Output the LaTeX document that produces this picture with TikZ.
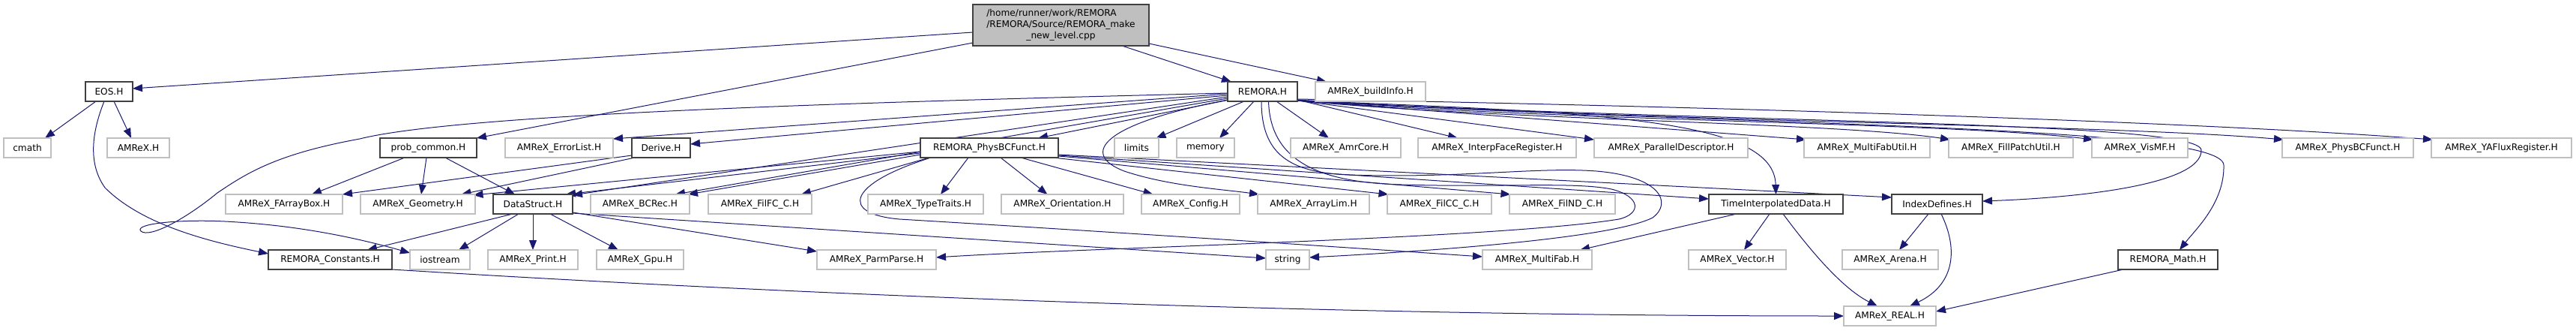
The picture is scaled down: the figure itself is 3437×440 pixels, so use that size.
\documentclass[tikz,border=0pt]{standalone}
\usepackage{fontspec}
\setmainfont{DejaVu Sans}
\usetikzlibrary{arrows.meta,calc}
\definecolor{edgec}{HTML}{191970}
\definecolor{graybd}{HTML}{BFBFBF}
\definecolor{mainfill}{HTML}{BFBFBF}
\definecolor{darkbd}{HTML}{404040}
\newcommand\dfont{\fontsize{12.15}{15}\selectfont}
\pgfdeclarelayer{bg}
\pgfsetlayers{bg,main}
\tikzset{
  gbox/.style={draw=graybd, line width=1.5pt, fill=white, minimum height=26pt, inner sep=0pt, font=\dfont, text=black},
  bbox/.style={draw=darkbd, line width=1.5pt, fill=white, minimum height=26pt, inner sep=0pt, font=\dfont, text=black},
  bw/.style={minimum width=#1pt},
  lnk/.style={draw=edgec, line width=1pt, -{Triangle[length=13pt,width=10pt]}, edgec}
}
\begin{document}
\begin{tikzpicture}[x=1pt,y=-1pt]
\useasboundingbox (0,0) rectangle (3437,440);
% row 0
\node[bbox,bw=235,minimum height=55pt,fill=mainfill] (main) at (1415.5,33.5)
  {\begin{tabular}{@{}l@{}}/home/runner/work/REMORA\\/REMORA/Source/REMORA\_make\\\multicolumn{1}{@{}c@{}}{\_new\_level.cpp}\end{tabular}};
% row 1
\node[bbox,bw=63] (eos) at (145.5,122) {EOS.H};
\node[bbox,bw=93] (remora) at (1684.5,122) {REMORA.H};
\node[gbox,bw=147] (binfo) at (1828.5,122) {AMReX\_buildInfo.H};
% row 2
\node[gbox,bw=63] (cmath) at (36.5,197) {cmath};
\node[gbox,bw=83] (amrex) at (184.5,197) {AMReX.H};
\node[bbox,bw=129] (prob) at (571.5,197) {prob\_common.H};
\node[gbox,bw=144] (errl) at (746,197) {AMReX\_ErrorList.H};
\node[bbox,bw=78] (derive) at (882,197) {Derive.H};
\node[bbox,bw=184] (rphys) at (1320,197) {REMORA\_PhysBCFunct.H};
\node[gbox,bw=59] (limits) at (1516.5,197) {limits};
\node[gbox,bw=77] (memory) at (1608.5,197) {memory};
\node[gbox,bw=147] (amrcore) at (1795.5,197) {AMReX\_AmrCore.H};
\node[gbox,bw=211] (interp) at (1997.5,197) {AMReX\_InterpFaceRegister.H};
\node[gbox,bw=205] (pardesc) at (2229.5,197) {AMReX\_ParallelDescriptor.H};
\node[gbox,bw=168] (mfutil) at (2491,197) {AMReX\_MultiFabUtil.H};
\node[gbox,bw=166] (fpu) at (2683,197) {AMReX\_FillPatchUtil.H};
\node[gbox,bw=128] (vismf) at (2855,197) {AMReX\_VisMF.H};
\node[gbox,bw=175] (aphys) at (3132.5,197) {AMReX\_PhysBCFunct.H};
\node[gbox,bw=187] (yaflux) at (3337.5,197) {AMReX\_YAFluxRegister.H};
% row 3
\node[gbox,bw=156] (farray) at (379,272) {AMReX\_FArrayBox.H};
\node[gbox,bw=153] (geom) at (557.5,272) {AMReX\_Geometry.H};
\node[bbox,bw=106] (ds) at (711,272) {DataStruct.H};
\node[gbox,bw=132] (bcrec) at (854,272) {AMReX\_BCRec.H};
\node[gbox,bw=138] (filfc) at (1014,272) {AMReX\_FilFC\_C.H};
\node[gbox,bw=154] (ttraits) at (1235,272) {AMReX\_TypeTraits.H};
\node[gbox,bw=163] (orient) at (1417.5,272) {AMReX\_Orientation.H};
\node[gbox,bw=131] (config) at (1588.5,272) {AMReX\_Config.H};
\node[gbox,bw=149] (alim) at (1752.5,272) {AMReX\_ArrayLim.H};
\node[gbox,bw=139] (filcc) at (1920.5,272) {AMReX\_FilCC\_C.H};
\node[gbox,bw=141] (filnd) at (2084.5,272) {AMReX\_FilND\_C.H};
\node[bbox,bw=179] (tid) at (2369.5,272) {TimeInterpolatedData.H};
\node[bbox,bw=121] (idx) at (2584.5,272) {IndexDefines.H};
% row 4
\node[bbox,bw=165] (consts) at (440.5,346) {REMORA\_Constants.H};
\node[gbox,bw=80] (iostr) at (587,346) {iostream};
\node[gbox,bw=120] (print) at (711,346) {AMReX\_Print.H};
\node[gbox,bw=116] (gpu) at (854,346) {AMReX\_Gpu.H};
\node[gbox,bw=159] (parm) at (1169.5,346) {AMReX\_ParmParse.H};
\node[gbox,bw=58] (string) at (1718,346) {string};
\node[gbox,bw=146] (mfab) at (2051,346) {AMReX\_MultiFab.H};
\node[gbox,bw=130] (vector) at (2318,346) {AMReX\_Vector.H};
\node[gbox,bw=128] (arena) at (2522,346) {AMReX\_Arena.H};
\node[bbox,bw=133] (rmath) at (2892.5,346) {REMORA\_Math.H};
% row 5
\node[gbox,bw=123] (real) at (2521.5,421) {AMReX\_REAL.H};

\begin{pgfonlayer}{bg}
% main file
\draw[lnk] ($(main)+(-117.5,9.5)$) -- ($(eos)+(31.5,-4)$);
\draw[lnk] ($(main)+(-117.5,23.5)$) -- ($(prob)+(64.5,-13)$);
\draw[lnk] ($(main)+(81.5,27.5)$) -- ($(remora)+(-41.5,-13)$);
\draw[lnk] ($(main)+(117.5,24.5)$) -- ($(binfo)+(-58.5,-13)$);
% EOS.H
\draw[lnk] ($(eos)+(-17.5,13)$) -- ($(cmath)+(23.5,-13)$);
\draw[lnk] ($(eos)+(6.5,13)$) -- ($(amrex)+(-9.5,-13)$);
\draw[lnk] ($(eos)+(-6.5,13)$) .. controls (125,170) and (115,215) .. (140,250) .. controls (190,300) and (280,322) .. ($(consts)+(-82.5,-8)$);
% prob_common.H
\draw[lnk] ($(prob)+(-31.5,13)$) -- ($(farray)+(37,-13)$);
\draw[lnk] ($(prob)+(-2.5,13)$) -- ($(geom)+(4.5,-13)$);
\draw[lnk] ($(prob)+(22.5,13)$) -- ($(ds)+(-24,-13)$);
% Derive.H
\draw[lnk] ($(derive)+(-39,10)$) -- ($(farray)+(78,-13)$);
\draw[lnk] ($(derive)+(-35,13)$) -- ($(geom)+(58,-13)$);
% REMORA.H to the left
\draw[lnk] ($(remora)+(-46.5,5)$) -- ($(derive)+(39,-5)$);
\draw[lnk] ($(remora)+(-46.5,3)$) -- ($(errl)+(72,-12)$);
\draw[lnk] ($(remora)+(-46.5,2)$) .. controls (1200,135) and (620,150) .. (480,185) .. controls (370,205) and (330,230) .. (290,257) .. controls (250,290) and (200,318) .. (188,308) .. controls (178,298) and (240,292) .. (300,295) .. controls (400,300) and (480,318) .. ($(iostr)+(-40,-9)$);
\draw[lnk] ($(remora)+(-46.5,7)$) -- ($(ds)+(53,-12)$);
\draw[lnk] ($(remora)+(-46.5,9)$) -- ($(bcrec)+(47,-13)$);
\draw[lnk] ($(remora)+(-44.5,11)$) -- ($(rphys)+(65,-13)$);
\draw[lnk] ($(remora)+(-24.5,13)$) -- ($(limits)+(26,-13)$);
\draw[lnk] ($(remora)+(-11.5,13)$) -- ($(memory)+(18.5,-13)$);
\draw[lnk] ($(remora)+(-46.5,11)$) .. controls (1470,165) and (1440,205) .. (1500,228) .. controls (1560,248) and (1630,252) .. ($(alim)+(-72.5,-13)$);
% REMORA.H to the right
\draw[lnk] ($(remora)+(18.5,13)$) -- ($(amrcore)+(-22.5,-13)$);
\draw[lnk] ($(remora)+(46.5,11)$) -- ($(interp)+(-52.5,-13)$);
\draw[lnk] ($(remora)+(46.5,12)$) -- ($(pardesc)+(-102.5,-11)$);
\draw[lnk] ($(remora)+(46.5,12)$) -- ($(mfutil)+(-81,-11)$);
\draw[lnk] ($(remora)+(46.5,12)$) .. controls (2000,160) and (2450,163) .. ($(fpu)+(-81,-11)$);
\draw[lnk] ($(remora)+(46.5,12)$) .. controls (2100,162) and (2600,163) .. ($(vismf)+(-62,-11)$);
\draw[lnk] ($(remora)+(46.5,11)$) .. controls (2200,163) and (2800,165) .. ($(aphys)+(-85.5,-11)$);
\draw[lnk] ($(remora)+(46.5,10)$) .. controls (2200,140) and (2900,160) .. ($(yaflux)+(-91.5,-11)$);
\draw[lnk] ($(remora)+(46.5,12)$) .. controls (2150,150) and (2367,160) .. ($(tid)+(0,-13)$);
\draw[lnk] ($(remora)+(46.5,12)$) .. controls (2300,165) and (2935,160) .. (2937,200) .. controls (2938,245) and (2780,263) .. ($(idx)+(60.5,-4)$);
\draw[lnk] ($(remora)+(46.5,12)$) .. controls (2300,168) and (2966,165) .. (2967,220) .. controls (2968,270) and (2930,305) .. ($(rmath)+(15.5,-13)$);
\draw[lnk] ($(remora)+(-1.5,13)$) .. controls (1683,205) and (1720,230) .. (1800,233) .. controls (1950,238) and (2050,222) .. (2130,228) .. controls (2215,235) and (2232,270) .. (2205,290) .. controls (2150,318) and (1900,335) .. ($(string)+(29,-3)$);
\draw[lnk] ($(remora)+(8,13)$) .. controls (1695,215) and (1760,243) .. (1870,246) .. controls (2000,250) and (2100,242) .. (2150,252) .. controls (2190,262) and (2190,285) .. (2160,292) .. controls (2000,318) and (1450,330) .. ($(parm)+(79.5,-3)$);
% REMORA_PhysBCFunct.H
\draw[lnk] ($(rphys)+(-92,7)$) -- ($(ds)+(44,-13)$);
\draw[lnk] ($(rphys)+(-92,5)$) -- ($(geom)+(74,-12)$);
\draw[lnk] ($(rphys)+(-92,9)$) -- ($(bcrec)+(64,-13)$);
\draw[lnk] ($(rphys)+(-80,13)$) -- ($(filfc)+(55,-13)$);
\draw[lnk] ($(rphys)+(-28,13)$) -- ($(ttraits)+(20,-13)$);
\draw[lnk] ($(rphys)+(15,13)$) -- ($(orient)+(-20,-13)$);
\draw[lnk] ($(rphys)+(42,13)$) -- ($(config)+(-50,-13)$);
\draw[lnk] ($(rphys)+(85,13)$) -- ($(filcc)+(-68,-13)$);
\draw[lnk] ($(rphys)+(92,11)$) -- ($(filnd)+(-69,-13)$);
\draw[lnk] ($(rphys)+(92,10)$) -- ($(tid)+(-89.5,-7)$);
\draw[lnk] ($(rphys)+(92,9)$) -- ($(idx)+(-60.5,-9)$);
\draw[lnk] ($(rphys)+(-78,13)$) .. controls (1130,245) and (1120,285) .. (1200,292) .. controls (1500,310) and (1800,330) .. ($(mfab)+(-73,-4)$);
% DataStruct.H
\draw[lnk] ($(ds)+(-27,13)$) -- ($(consts)+(49.5,-13)$);
\draw[lnk] ($(ds)+(-19,13)$) -- ($(iostr)+(25,-13)$);
\draw[lnk] ($(ds)+(0,13)$) -- ($(print)+(0,-13)$);
\draw[lnk] ($(ds)+(23,13)$) -- ($(gpu)+(-29,-13)$);
\draw[lnk] ($(ds)+(53,11)$) -- ($(parm)+(-79.5,-11)$);
\draw[lnk] ($(ds)+(53,12)$) -- ($(string)+(-29,-2)$);
% lower nodes
\draw[lnk] ($(tid)+(-52.5,13)$) -- ($(mfab)+(57,-13)$);
\draw[lnk] ($(tid)+(-8.5,13)$) -- ($(vector)+(9,-13)$);
\draw[lnk] ($(tid)+(9.5,13)$) .. controls (2420,340) and (2460,385) .. ($(real)+(-16.5,-13)$);
\draw[lnk] ($(idx)+(-11.5,13)$) -- ($(arena)+(12,-13)$);
\draw[lnk] ($(idx)+(5.5,13)$) .. controls (2612,330) and (2610,378) .. ($(real)+(26.5,-13)$);
\draw[lnk] ($(rmath)+(-59.5,13)$) -- ($(real)+(61.5,-6)$);
\draw[lnk] ($(consts)+(82.5,13)$) .. controls (1100,395) and (1800,421) .. ($(real)+(-61.5,0)$);
\end{pgfonlayer}
\end{tikzpicture}
\end{document}
